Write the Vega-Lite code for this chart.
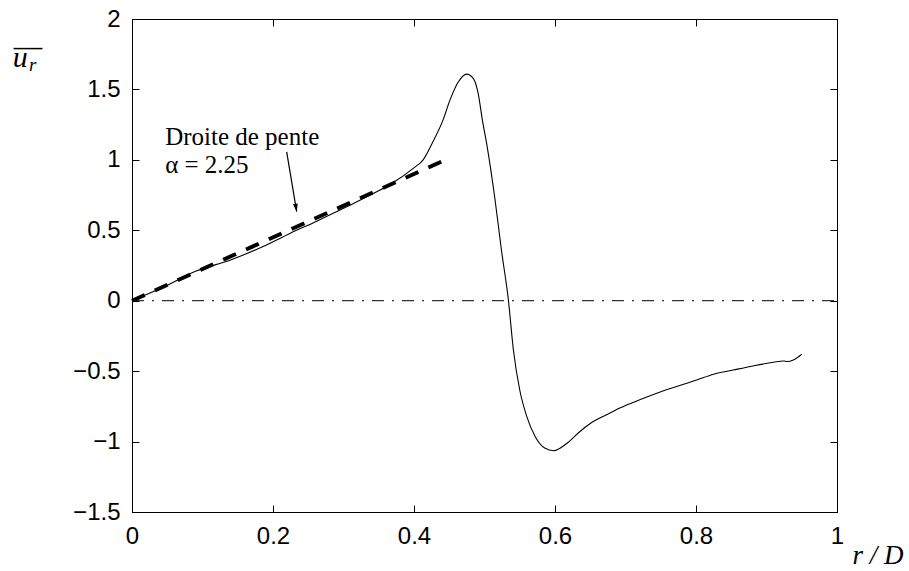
{
  "$schema": "https://vega.github.io/schema/vega-lite/v6.json",
  "width": 705,
  "height": 493,
  "autosize": "none",
  "padding": {"left": 132, "top": 19, "right": 72, "bottom": 59},
  "background": "white",
  "config": {
    "view": {"stroke": "black", "strokeWidth": 1},
    "axis": {
      "grid": false,
      "domainColor": "black",
      "domainWidth": 1,
      "tickColor": "black",
      "tickWidth": 1,
      "tickSize": -7,
      "labelColor": "black",
      "labelFont": "Liberation Sans",
      "labelFontSize": 24,
      "labelFlush": false,
      "labelOverlap": false
    }
  },
  "datasets": {
    "curve": [
      {"x": 0, "y": 0},
      {"x": 0.044, "y": 0.095},
      {"x": 0.092, "y": 0.212},
      {"x": 0.139, "y": 0.288},
      {"x": 0.186, "y": 0.385},
      {"x": 0.224, "y": 0.478},
      {"x": 0.262, "y": 0.565},
      {"x": 0.3045, "y": 0.667},
      {"x": 0.338, "y": 0.75},
      {"x": 0.366, "y": 0.825},
      {"x": 0.399, "y": 0.94},
      {"x": 0.413, "y": 1.0},
      {"x": 0.427, "y": 1.13},
      {"x": 0.441, "y": 1.28},
      {"x": 0.451, "y": 1.424},
      {"x": 0.463, "y": 1.554},
      {"x": 0.4747, "y": 1.609},
      {"x": 0.484, "y": 1.578},
      {"x": 0.491, "y": 1.472},
      {"x": 0.497, "y": 1.282},
      {"x": 0.503, "y": 1.117},
      {"x": 0.515, "y": 0.715},
      {"x": 0.524, "y": 0.36},
      {"x": 0.534, "y": 0.0},
      {"x": 0.541, "y": -0.35},
      {"x": 0.55, "y": -0.634},
      {"x": 0.56, "y": -0.823},
      {"x": 0.572, "y": -0.965},
      {"x": 0.586, "y": -1.048},
      {"x": 0.598, "y": -1.065},
      {"x": 0.617, "y": -1.012},
      {"x": 0.635, "y": -0.93},
      {"x": 0.65, "y": -0.872},
      {"x": 0.673, "y": -0.81},
      {"x": 0.692, "y": -0.762},
      {"x": 0.721, "y": -0.702},
      {"x": 0.758, "y": -0.632},
      {"x": 0.801, "y": -0.563},
      {"x": 0.825, "y": -0.522},
      {"x": 0.853, "y": -0.492},
      {"x": 0.881, "y": -0.463},
      {"x": 0.91, "y": -0.437},
      {"x": 0.924, "y": -0.428},
      {"x": 0.93, "y": -0.432},
      {"x": 0.938, "y": -0.421},
      {"x": 0.95, "y": -0.38}
    ],
    "zero": [{"x": 0, "y": 0}, {"x": 1, "y": 0}],
    "slope": [{"x": 0, "y": 0}, {"x": 0.45, "y": 1.0125}]
  },
  "layer": [
    {
      "data": {"name": "curve"},
      "mark": {"type": "line", "color": "black", "strokeWidth": 1.1, "interpolate": "monotone"},
      "encoding": {
        "x": {
          "field": "x", "type": "quantitative",
          "scale": {"domain": [0, 1], "nice": false, "zero": false},
          "axis": {
            "orient": "bottom",
            "values": [0, 0.2, 0.4, 0.6, 0.8, 1],
            "format": ".1~f",
            "labelPadding": 19,
            "title": "r / D",
            "titleFont": "Liberation Serif",
            "titleFontStyle": "italic",
            "titleFontWeight": "normal",
            "titleFontSize": 27,
            "titleColor": "black",
            "titleX": 720,
            "titleY": 51,
            "titleAlign": "left",
            "titleBaseline": "alphabetic"
          }
        },
        "y": {
          "field": "y", "type": "quantitative",
          "scale": {"domain": [-1.5, 2], "nice": false, "zero": false},
          "axis": {
            "orient": "left",
            "values": [-1.5, -1, -0.5, 0, 0.5, 1, 1.5, 2],
            "format": ".1~f",
            "labelPadding": 19,
            "title": null
          }
        }
      }
    },
    {
      "data": {"name": "zero"},
      "mark": {"type": "line", "color": "black", "strokeWidth": 1, "strokeDash": [12, 8, 2, 8]},
      "encoding": {
        "x": {
          "field": "x", "type": "quantitative",
          "axis": {"orient": "top", "values": [0, 0.2, 0.4, 0.6, 0.8, 1], "labels": false, "title": null}
        },
        "y": {
          "field": "y", "type": "quantitative",
          "axis": {"orient": "right", "values": [-1.5, -1, -0.5, 0, 0.5, 1, 1.5, 2], "labels": false, "title": null}
        }
      }
    },
    {
      "data": {"name": "slope"},
      "mark": {"type": "line", "color": "black", "strokeWidth": 4, "strokeDash": [14, 11]},
      "encoding": {
        "x": {"field": "x", "type": "quantitative", "axis": null},
        "y": {"field": "y", "type": "quantitative", "axis": null}
      }
    },
    {
      "data": {"values": [{}]},
      "mark": {"type": "text", "text": ["Droite de pente", "α = 2.25"], "font": "Liberation Serif", "fontSize": 25, "lineHeight": 28, "align": "left", "baseline": "alphabetic", "color": "black"},
      "encoding": {"x": {"datum": 0.047, "type": "quantitative", "axis": null}, "y": {"datum": 1.105, "type": "quantitative", "axis": null}}
    },
    {
      "data": {"values": [{}]},
      "mark": {"type": "rule", "color": "black", "strokeWidth": 1.2},
      "encoding": {
        "x": {"datum": 0.2194, "type": "quantitative", "axis": null},
        "y": {"datum": 1.057, "type": "quantitative", "axis": null},
        "x2": {"datum": 0.2336},
        "y2": {"datum": 0.632}
      }
    },
    {
      "data": {"values": [{}]},
      "mark": {"type": "point", "shape": "M0,0L-0.3,-1L0.3,-1Z", "size": 256, "angle": 350.5, "filled": true, "color": "black", "opacity": 1},
      "encoding": {"x": {"datum": 0.2336, "type": "quantitative", "axis": null}, "y": {"datum": 0.632, "type": "quantitative", "axis": null}}
    },
    {
      "data": {"values": [{}]},
      "mark": {"type": "text", "text": "u", "font": "Liberation Serif", "fontStyle": "italic", "fontSize": 30, "align": "left", "baseline": "alphabetic", "color": "black"},
      "encoding": {"x": {"datum": -0.169, "type": "quantitative", "axis": null}, "y": {"datum": 1.659, "type": "quantitative", "axis": null}}
    },
    {
      "data": {"values": [{}]},
      "mark": {"type": "text", "text": "r", "font": "Liberation Serif", "fontStyle": "italic", "fontSize": 19, "align": "left", "baseline": "alphabetic", "color": "black"},
      "encoding": {"x": {"datum": -0.146, "type": "quantitative", "axis": null}, "y": {"datum": 1.632, "type": "quantitative", "axis": null}}
    },
    {
      "data": {"values": [{}]},
      "mark": {"type": "rule", "color": "black", "strokeWidth": 1.5},
      "encoding": {
        "x": {"datum": -0.168, "type": "quantitative", "axis": null},
        "x2": {"datum": -0.127},
        "y": {"datum": 1.79, "type": "quantitative", "axis": null}
      }
    }
  ],
  "resolve": {"axis": {"x": "independent", "y": "independent"}}
}
